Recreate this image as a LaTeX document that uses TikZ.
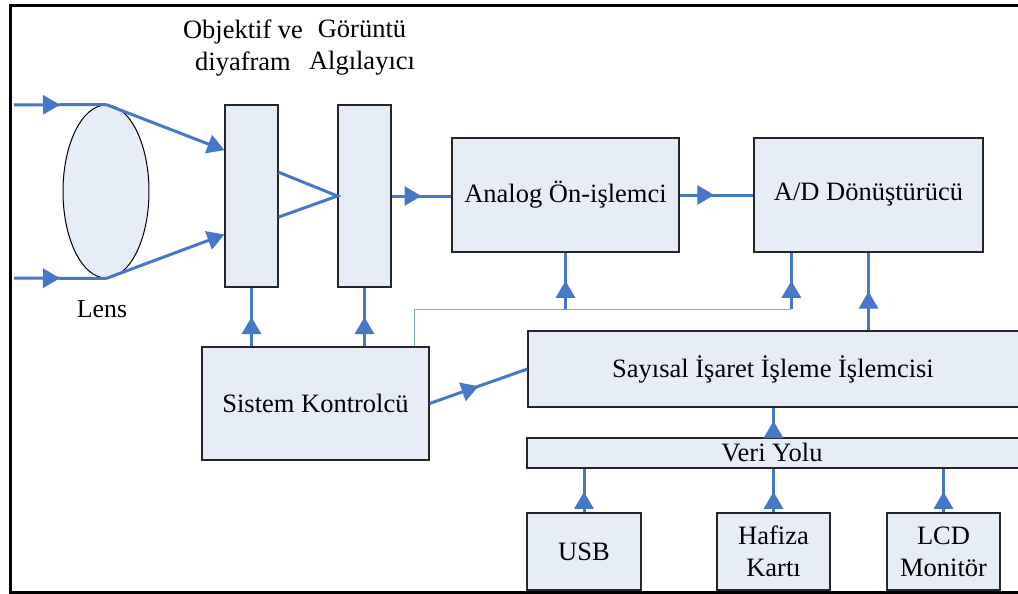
\documentclass[tikz,border=0pt]{standalone}
\usepackage{fontspec}
\setmainfont{Liberation Serif}
\usepackage{xcolor}
\usepackage{tikz}
\usetikzlibrary{calc,arrows.meta,shapes.geometric,decorations.markings}
\definecolor{boxfill}{HTML}{E7EDF7}
\definecolor{flow}{HTML}{4677C8}
\definecolor{thinflow}{HTML}{7FA5DC}
\definecolor{edge}{HTML}{262626}
\tikzset{
  blk/.style={draw=edge, line width=0.6pt, fill=boxfill, inner sep=0pt, align=center, font=\fontsize{13.25}{16}\selectfont},
  txt/.style={inner sep=0pt, font=\fontsize{13.25}{16}\selectfont},
  lensbody/.style={ellipse, draw=black, line width=0.5pt, fill=boxfill, minimum width=43pt, minimum height=86.5pt, inner sep=0pt},
  lab/.style={align=center, inner sep=0pt, font=\fontsize{13.25}{16}\selectfont},
  flowline/.style={draw, color=flow, line width=1.5pt},
  ctlline/.style={draw=thinflow, line width=0.5pt},
  endtip/.style={-{Triangle[length=8.5pt,width=9.5pt]}},
  midarr/.style={postaction={decorate}, decoration={markings, mark=at position #1 with {\arrow{Triangle[length=8.5pt,width=9.5pt]}}}},
  midarr/.default=0.5,
  outline/.style={draw=black, line width=1.5pt},
}

\begin{document}
\begin{tikzpicture}[x=0.5pt, y=-0.5pt]
  \useasboundingbox (0,0) rectangle (1018,594);
  \draw[outline] (1030,5) -- (10,5) -- (10,592) -- (1030,592);

  % optics
  \node[lensbody] (lens) at (106,191.5) {};
  \node[txt, font=\fontsize{12.9}{16}\selectfont] (lenslab) at (102,309) {Lens};
  \node[blk, minimum width=26.5pt, minimum height=91pt] (obj) at (251.5,196) {};
  \node[blk, minimum width=26.5pt, minimum height=91pt] (sensor) at (364.5,196) {};
  \node[lab] (objlab) at (243,48) {Objektif ve\\diyafram};
  \node[lab] (sensorlab) at (362,48) {Görüntü\\Algılayıcı};

  % processing
  \node[blk, minimum width=113.5pt, minimum height=57pt] (analog) at (565.5,195) {Analog Ön-işlemci};
  \node[blk, minimum width=114.5pt, minimum height=57pt] (adc) at (868.5,195) {A/D Dönüştürücü};
  \node[blk, minimum width=113.5pt, minimum height=56.5pt] (ctrl) at (315.5,403.5) {Sistem Kontrolcü};
  \node[blk, minimum width=251pt, minimum height=38pt] (dsp) at (779,369) {};
  \node[txt] (dsptext) at (773,369) {Sayısal İşaret İşleme İşlemcisi};
  \node[blk, minimum width=251.5pt, minimum height=15pt] (bus) at (778.5,453) {};
  \node[txt] (bustext) at (772,453) {Veri Yolu};
  \node[blk, minimum width=57pt, minimum height=38.5pt] (usb) at (584,551.5) {USB};
  \node[blk, minimum width=56.5pt, minimum height=38.5pt] (card) at (773.5,551.5) {Hafiza\\Kartı};
  \node[blk, minimum width=56.5pt, minimum height=38.5pt] (lcd) at (943.5,551.5) {LCD\\Monitör};

  % light path
  \coordinate (intop) at (14,105);
  \coordinate (inbot) at (14,278);
  \draw[flowline, midarr=0.5] (intop) -- (lens.north);
  \draw[flowline, midarr=0.5] (inbot) -- (lens.south);
  \draw[flowline, endtip] (lens.north) -- ($(obj.north west)!0.25!(obj.south west)$);
  \draw[flowline, endtip] (lens.south) -- ($(obj.north west)!0.71!(obj.south west)$);
  \draw[flowline] ($(obj.north east)!0.37!(obj.south east)$) -- (sensor.west) -- ($(obj.north east)!0.615!(obj.south east)$);

  % signal path
  \draw[flowline, midarr=0.5] (sensor.east) -- (sensor.east -| analog.west);
  \draw[flowline, midarr=0.47] (analog.east) -- (adc.west);
  \draw[flowline, midarr=0.5] (ctrl.north -| obj) -- (obj.south);
  \draw[flowline, midarr=0.5] (ctrl.north -| sensor) -- (sensor.south);
  \draw[flowline, midarr=0.5] (ctrl.east) -- (dsp.west);

  % control line
  \coordinate (tap) at ($(ctrl.north east)+(-15,0)$);
  \coordinate (ctlrow) at (0,309);
  \coordinate (adcin) at ($(adc.south west)+(38,0)$);
  \draw[ctlline] (tap) |- (adcin |- ctlrow);
  \draw[flowline, midarr=0.5] (analog.south |- ctlrow) -- (analog.south);
  \draw[flowline, midarr=0.5] (adcin |- ctlrow) -- (adcin);
  \draw[flowline, midarr=0.5] (dsp.north -| adc) -- (adc.south);

  % data bus
  \draw[flowline, midarr=0.55] (bus.north -| card) -- (dsp.south -| card);
  \draw[flowline, midarr=0.47] (usb.north) -- (bus.south -| usb);
  \draw[flowline, midarr=0.47] (card.north) -- (bus.south -| card);
  \draw[flowline, midarr=0.47] (lcd.north) -- (bus.south -| lcd);
\end{tikzpicture}
\end{document}
